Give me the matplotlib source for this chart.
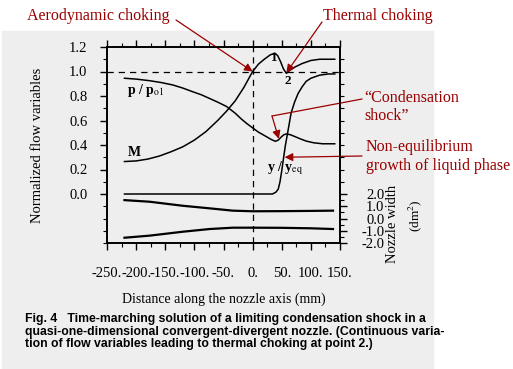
import matplotlib
matplotlib.use("Agg")
import matplotlib.pyplot as plt
from matplotlib.patches import Rectangle
from matplotlib.ticker import MultipleLocator, FixedLocator

plt.rcParams["font.family"] = ["Liberation Serif", "DejaVu Serif"]
plt.rcParams["mathtext.fontset"] = "stix"

# Mach number
m_x = [-220, -200, -180, -160, -140, -120, -100, -80, -60, -45, -30, -15, 0, 10, 20, 30,
       38, 43, 48, 53, 58, 64, 72, 85, 100, 115, 141]
m_y = [0.265, 0.27, 0.285, 0.31, 0.345, 0.385, 0.44, 0.51, 0.60, 0.675, 0.76, 0.87, 1.0,
       1.06, 1.10, 1.135, 1.15, 1.13, 1.08, 1.02, 0.985, 1.01, 1.035, 1.065, 1.09, 1.10, 1.10]

# static-to-stagnation pressure ratio
p_x = [-220, -200, -177, -157, -137, -120, -103, -88, -74, -60, -45, -30, -20, -10, 0, 10,
       23, 32, 39, 44, 49, 54, 58, 64, 72, 82, 92, 105, 120, 141]
p_y = [0.945, 0.938, 0.925, 0.91, 0.89, 0.865, 0.835, 0.81, 0.78, 0.75, 0.715, 0.66, 0.615,
       0.575, 0.54, 0.505, 0.47, 0.445, 0.43, 0.44, 0.465, 0.485, 0.49, 0.485, 0.47, 0.45,
       0.432, 0.418, 0.41, 0.41]

# liquid fraction relative to equilibrium
y_x = [-220, 0, 34, 40, 44, 47, 50, 53, 56, 59, 62, 66, 72, 78, 85, 92, 100, 115, 130, 141]
y_y = [0.0, 0.0, 0.0, 0.015, 0.04, 0.10, 0.19, 0.29, 0.39, 0.47, 0.55, 0.66, 0.75, 0.82,
       0.875, 0.92, 0.945, 0.97, 0.98, 0.98]

# nozzle walls (dm)
wall_x = [-220, -177, -120, -74, -34, 0, 50, 100, 138]
wall_up = [1.50, 1.37, 1.04, 0.83, 0.64, 0.59, 0.60, 0.62, 0.64]
wall_lo = [-1.57, -1.40, -1.08, -0.86, -0.75, -0.75, -0.76, -0.80, -0.86]

x_ticks = [-250, -200, -150, -100, -50, 0, 50, 100, 150]
x_labels = ["-250.", "-200.", "-150.", "-100.", "-50.", "0.", "50.", "100.", "150."]
y_ticks = [0.0, 0.2, 0.4, 0.6, 0.8, 1.0, 1.2]
w_ticks = [2.0, 1.0, 0.0, -1.0, -2.0]

caption = ["Fig. 4   Time-marching solution of a limiting condensation shock in a",
           "quasi-one-dimensional convergent-divergent nozzle. (Continuous varia-",
           "tion of flow variables leading to thermal choking at point 2.)"]

red = "#9a0000"

fig = plt.figure(figsize=(5.13, 3.69), dpi=100)
fig.patches.append(Rectangle((2 / 513, 0), 431 / 513, 1 - 31 / 369,
                             transform=fig.transFigure, color="#eeeeee", zorder=-10))

ax = fig.add_axes([107 / 513, 1 - 243 / 369, 233 / 513, 196 / 369])
ax.patch.set_alpha(0)
ax.set_xlim(-250, 150)
ax.set_ylim(-0.4, 1.2)

ax.plot(m_x, m_y, color="black", lw=1.1)
ax.plot(p_x, p_y, color="black", lw=1.1)
ax.plot(y_x, y_y, color="black", lw=1.1)
ax.axhline(1.0, color="black", lw=0.9, ls=(0, (5, 4)))
ax.axvline(0.0, color="black", lw=0.9, ls=(0, (5, 4)))

ax.set_xticks(x_ticks)
ax.set_xticklabels(x_labels)
ax.xaxis.set_minor_locator(MultipleLocator(25))
ax.set_yticks(y_ticks)
ax.set_yticklabels([f"{v:.1f}" for v in y_ticks])
ax.yaxis.set_minor_locator(MultipleLocator(0.1))
ax.tick_params(which="major", direction="out", length=5, width=1, labelsize=10.5,
               top=True, right=False)
ax.tick_params(which="minor", direction="out", length=3, width=0.8, top=True, right=False)
ax.tick_params(axis="x", pad=12)
ax.tick_params(axis="y", pad=9)
for s in ax.spines.values():
    s.set_linewidth(1.2)

ax.set_xlabel("Distance along the nozzle axis (mm)", fontsize=10, labelpad=9)
ax.set_ylabel("Normalized flow variables", fontsize=10.5, labelpad=18)

# nozzle width axis
ax2 = ax.twinx()
ax2.set_ylim(-2, 14)
ax2.plot(wall_x, wall_up, color="black", lw=1.6)
ax2.plot(wall_x, wall_lo, color="black", lw=1.6)
ax2.yaxis.set_major_locator(FixedLocator(w_ticks))
ax2.set_yticklabels([f"{v:.1f}" for v in w_ticks])
ax2.yaxis.set_minor_locator(FixedLocator([-1.5, -0.5, 0.5, 1.5] + list(range(3, 14))))
ax2.tick_params(which="major", direction="out", length=5, width=1, labelsize=10.5, pad=27)
ax2.tick_params(which="minor", direction="out", length=3, width=0.8)
for lab in ax2.get_yticklabels():
    lab.set_horizontalalignment("right")
for s in ax2.spines.values():
    s.set_linewidth(1.2)

fig.text(392 / 513, 1 - 224 / 369, "Nozzle width", rotation=90, fontsize=10.5,
         ha="center", va="center")
fig.text(415 / 513, 1 - 216 / 369, "(dm$^2$)", rotation=90, fontsize=9.5,
         ha="center", va="center")

# curve labels
ax.text(-215, 0.845, "p / p$_{\\rm o1}$", fontsize=10, fontweight="bold", va="center")
ax.text(-215, 0.335, "M", fontsize=10, fontweight="bold", va="center")
ax.text(38, 1.11, "1", fontsize=9.5, fontweight="bold", ha="center", va="center")
ax.text(60, 0.92, "2", fontsize=9.5, fontweight="bold", ha="center", va="center")
ax.text(24, 0.215, "y / y$_{\\rm eq}$", fontsize=10, fontweight="bold", va="center")

# red annotations
fig.text(27 / 513, 1 - 16 / 369, "Aerodynamic choking", color=red, fontsize=11.5,
         va="center")
fig.text(323 / 513, 1 - 16 / 369, "Thermal choking", color=red, fontsize=11.5, va="center")
fig.text(364 / 513, 1 - 98 / 369, "\u201cCondensation", color=red, fontsize=11.5, va="center")
fig.text(364 / 513, 1 - 116 / 369, "shock\u201d", color=red, fontsize=11.5, va="center")
fig.text(366 / 513, 1 - 147 / 369, "Non-equilibrium", color=red, fontsize=11.5, va="center")
fig.text(366 / 513, 1 - 166 / 369, "growth of liquid phase", color=red, fontsize=11.5,
         va="center")

arrow = dict(arrowstyle="-|>", color=red, lw=0.9, mutation_scale=12, shrinkA=0, shrinkB=0)
fc = fig.transFigure


def fpt(px, py):
    return (px / 513, 1 - py / 369)


ax.annotate("", xy=(0, 1.0), xycoords="data", xytext=fpt(176, 20), textcoords=fc,
            arrowprops=arrow, annotation_clip=False)
ax.annotate("", xy=(58, 0.99), xycoords="data", xytext=fpt(322, 22), textcoords=fc,
            arrowprops=arrow, annotation_clip=False)
ax.annotate("", xy=fpt(272, 116), xycoords=fc, xytext=fpt(362, 99), textcoords=fc,
            arrowprops=dict(arrowstyle="-", color=red, lw=0.9, shrinkA=0, shrinkB=0),
            annotation_clip=False)
ax.annotate("", xy=(45, 0.45), xycoords="data", xytext=fpt(272, 116), textcoords=fc,
            arrowprops=arrow, annotation_clip=False)
ax.annotate("", xy=(55, 0.30), xycoords="data", xytext=fpt(362, 156), textcoords=fc,
            arrowprops=arrow, annotation_clip=False)

for i, line in enumerate(caption):
    fig.text(25 / 513, 1 - (319 + 12.5 * i) / 369, line, fontsize=8.85, fontweight="bold",
             family=["Liberation Sans", "DejaVu Sans"], va="center")

fig.savefig("out.png", dpi=100)
